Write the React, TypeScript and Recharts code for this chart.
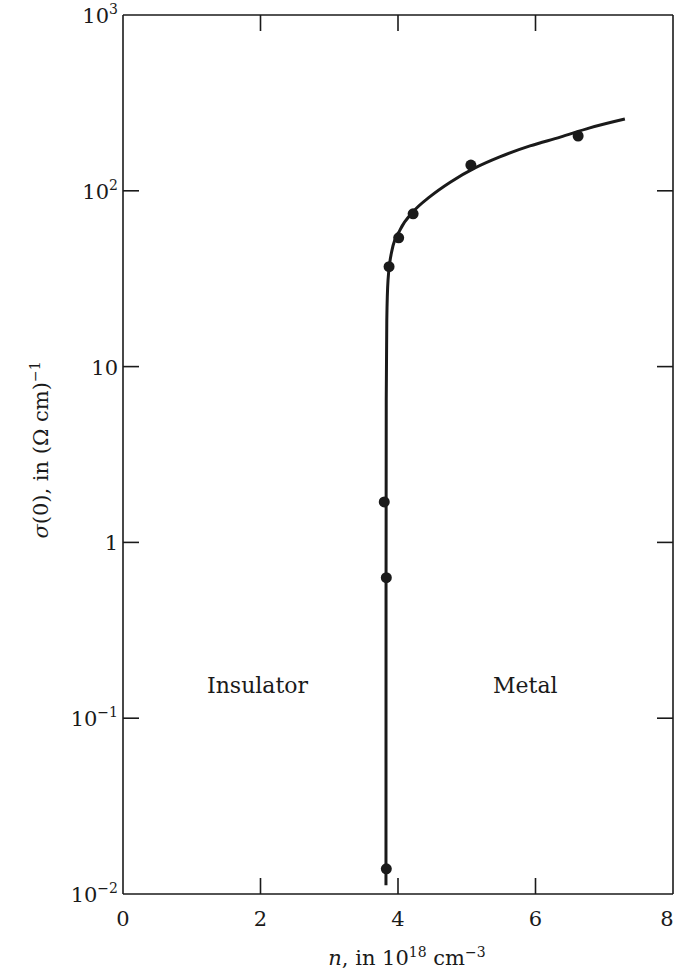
import React from "react";
import {
  ComposedChart, Line, Scatter, XAxis, YAxis,
} from "recharts";

// measured points: n in 1e18 cm^-3, sigma(0) in (ohm cm)^-1
const pointN = [3.83, 3.8, 3.83, 3.87, 4.01, 4.22, 5.06, 6.62];
const pointSigma = [0.0139, 1.7, 0.63, 37, 54, 74, 140, 205];

// hand-drawn fit curve
const curveN = [3.825, 3.826, 3.829, 3.837, 3.855, 3.913, 4.03, 4.22, 4.47, 4.76, 5.12, 5.48, 5.92, 6.36, 6.79, 7.3];
const curveSigma = [0.0112, 0.47, 6.45, 18.4, 31, 46, 60, 76, 93, 112, 135, 156, 180, 202, 228, 256];

const nTicks = [0, 2, 4, 6, 8];
const sigmaTicks = [0.01, 0.1, 1, 10, 100, 1000];
const sigmaTickBase = ["10", "10", "1", "10", "10", "10"];
const sigmaTickExp = ["\u22122", "\u22121", "", "", "2", "3"];

const points = pointN.map((n, i) => ({ n, s: pointSigma[i] }));
const curve = curveN.map((n, i) => ({ n, s: curveSigma[i] }));
// anchors for the inward marks on the left frame side (at n = 0)
const leftMarks = sigmaTicks.slice(1, -1).map((s) => ({ n: 0, s }));

const INK = "#1a1a1a";
const FONT = "'DejaVu Serif', 'Liberation Serif', serif";
const TICK = 16;

function LeftTick({ x, y, payload }: any) {
  const i = sigmaTicks.indexOf(payload.value);
  return (
    <text x={x} y={Number(y) + 8} textAnchor="end" fontFamily={FONT} fontSize={21} fill={INK}>
      {sigmaTickBase[i]}
      {sigmaTickExp[i] && (
        <tspan fontSize={14} dy={-9}>{sigmaTickExp[i]}</tspan>
      )}
    </text>
  );
}

function RightTick({ x, y, payload }: any) {
  const i = sigmaTicks.indexOf(payload.value);
  if (i <= 0 || i >= sigmaTicks.length - 1) return <g />;
  return <path d={`M${x},${y}h${-TICK}`} stroke={INK} strokeWidth={1.6} fill="none" />;
}

function BottomTick({ x, y, payload }: any) {
  const inner = payload.value !== 0 && payload.value !== 8;
  // last label sits at the page edge; nudge it in so it is not cut
  const dx = payload.value === 8 ? -6 : 0;
  return (
    <g>
      <text x={Number(x) + dx} y={Number(y) + 32} textAnchor="middle" fontFamily={FONT} fontSize={21} fill={INK}>
        {payload.value}
      </text>
      {inner && <path d={`M${x},${y}v${-TICK}`} stroke={INK} strokeWidth={1.6} fill="none" />}
    </g>
  );
}

function TopTick({ x, y, payload }: any) {
  if (payload.value === 0 || payload.value === 8) return <g />;
  return <path d={`M${x},${y}v${TICK}`} stroke={INK} strokeWidth={1.6} fill="none" />;
}

export default function App() {
  const axisLine = { stroke: INK, strokeWidth: 1.6 };
  return (
    <div style={{ position: "relative", width: 675, height: 975, background: "#fff", fontFamily: FONT, color: INK }}>
      <style>{`body{margin:0}`}</style>
      <ComposedChart width={675} height={975} margin={{ top: 14, right: 1, bottom: 0, left: 0 }}>
        <XAxis xAxisId="b" dataKey="n" type="number" domain={[0, 8]} ticks={nTicks}
          orientation="bottom" height={81} axisLine={axisLine}
          tickLine={false} tickSize={0} tickMargin={0} tick={<BottomTick />} interval={0} />
        <XAxis xAxisId="t" dataKey="n" type="number" domain={[0, 8]} ticks={nTicks}
          orientation="top" height={1} axisLine={axisLine}
          tickLine={false} tickSize={0} tickMargin={0} tick={<TopTick />} interval={0} />
        <YAxis yAxisId="l" dataKey="s" type="number" scale="log" domain={[0.01, 1000]}
          ticks={sigmaTicks} orientation="left" width={123}
          axisLine={axisLine} tickLine={false} tickSize={0} tickMargin={5}
          tick={<LeftTick />} interval={0} />
        <YAxis yAxisId="r" dataKey="s" type="number" scale="log" domain={[0.01, 1000]}
          ticks={sigmaTicks} orientation="right" width={1}
          axisLine={axisLine} tickLine={false} tickSize={0} tickMargin={0}
          tick={<RightTick />} interval={0} />
        {/* invisible copy so the top/right frame axes have a series */}
        <Line xAxisId="t" yAxisId="r" data={curve} dataKey="s" type="monotone"
          stroke="none" dot={false} activeDot={false} isAnimationActive={false} />
        <Scatter xAxisId="b" yAxisId="l" data={leftMarks} dataKey="s" isAnimationActive={false}
          shape={(p: any) => (
            <path d={`M${p.cx},${p.cy}h${TICK}`} stroke={INK} strokeWidth={1.6} fill="none" />
          )} />
        <Line xAxisId="b" yAxisId="l" data={curve} dataKey="s" type="monotone"
          stroke={INK} strokeWidth={3} dot={false} isAnimationActive={false} />
        <Scatter xAxisId="b" yAxisId="l" data={points} dataKey="s" fill={INK}
          isAnimationActive={false}
          shape={(p: any) => <circle cx={p.cx} cy={p.cy} r={5.5} fill={INK} />} />
      </ComposedChart>

      <div style={{ position: "absolute", left: 207, top: 673, fontSize: 22, whiteSpace: "nowrap" }}>Insulator</div>
      <div style={{ position: "absolute", left: 493, top: 673, fontSize: 22, whiteSpace: "nowrap" }}>Metal</div>

      <div style={{
        position: "absolute", left: 40, top: 450, fontSize: 21, whiteSpace: "nowrap",
        transform: "translate(-50%, -50%) rotate(-90deg)",
      }}>
        <i>σ</i>(0), in (Ω cm)<sup style={{ fontSize: 14 }}>−1</sup>
      </div>

      <div style={{
        position: "absolute", left: 407, top: 957, fontSize: 21, whiteSpace: "nowrap",
        transform: "translate(-50%, -50%)",
      }}>
        <i>n</i>, in 10<sup style={{ fontSize: 14 }}>18</sup> cm<sup style={{ fontSize: 14 }}>−3</sup>
      </div>
    </div>
  );
}
